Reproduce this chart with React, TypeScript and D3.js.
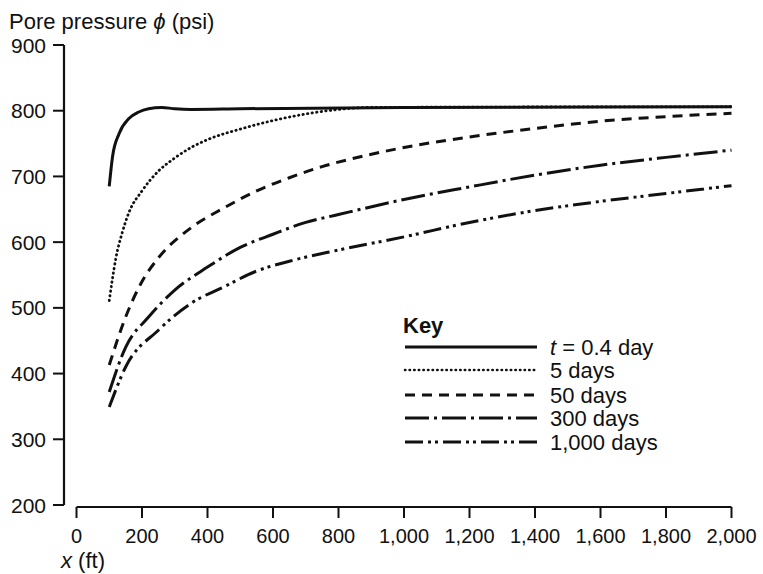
import React from "react";
import * as d3 from "d3";

type Pt = [number, number];

const xTicks = [0, 200, 400, 600, 800, 1000, 1200, 1400, 1600, 1800, 2000];
const yTicks = [200, 300, 400, 500, 600, 700, 800, 900];

const t04: Pt[] = [[100,685],[110,730],[130,765],[160,788],[190,798],[220,803],[260,805],[300,803],[350,802],[500,803],[1000,805],[2000,806]];
const d5: Pt[] = [[100,511],[110,545],[120,575],[140,615],[160,645],[200,678],[250,708],[300,728],[350,744],[400,756],[500,772],[600,785],[700,795],[800,802],[900,805],[2000,806]];
const d50: Pt[] = [[100,413],[150,486],[200,540],[250,576],[350,622],[450,652],[550,678],[650,698],[750,715],[850,728],[1000,744],[1200,760],[1400,773],[1600,784],[1800,791],[2000,796]];
const d300: Pt[] = [[100,372],[150,440],[220,486],[300,527],[400,562],[500,592],[600,612],[700,630],[800,642],[1000,665],[1200,684],[1400,702],[1600,717],[1800,729],[2000,740]];
const d1000: Pt[] = [[100,349],[150,410],[250,466],[350,507],[450,532],[550,556],[650,571],[800,588],[1000,608],[1200,630],[1400,648],[1600,662],[1800,674],[2000,686]];

const seriesLabels = ["t = 0.4 day", "5 days", "50 days", "300 days", "1,000 days"];
const seriesData = [t04, d5, d50, d300, d1000];
const dashes = ["", "0.4 4.2", "10 7", "24 5 3 5", "18 5 3 4 3 5"];

const FONT = "'Liberation Sans', Arial, Helvetica, sans-serif";
const INK = "#111";

export default function App() {
  const x = d3.scaleLinear().domain([0, 2000]).range([76.5, 731.5]);
  const y = d3.scaleLinear().domain([200, 900]).range([505, 45]);
  const line = d3
    .line<Pt>()
    .x((d) => x(d[0]))
    .y((d) => y(d[1]))
    .curve(d3.curveMonotoneX);

  const legX0 = 405;
  const legX1 = 537;
  const legY = [347, 370, 395, 418, 442];

  return (
    <svg
      width={763}
      height={574}
      style={{ position: "absolute", left: 0, top: 0, background: "#fff" }}
      fontFamily={FONT}
    >
      <rect x={0} y={0} width={763} height={574} fill="#fff" />
      {/* title */}
      <text x={9} y={29} fontSize={22} fill={INK}>
        Pore pressure <tspan fontStyle="italic">ϕ</tspan> (psi)
      </text>

      {/* y axis */}
      <line x1={64} x2={64} y1={y(900)} y2={y(200)} stroke={INK} strokeWidth={2.2} />
      {yTicks.map((t) => (
        <g key={t}>
          <line x1={53} x2={64} y1={y(t)} y2={y(t)} stroke={INK} strokeWidth={2} />
          <text x={46} y={y(t)} dy="0.36em" textAnchor="end" fontSize={21} fill={INK}>
            {t}
          </text>
        </g>
      ))}

      {/* x axis */}
      <line x1={x(0)} x2={x(2000)} y1={507} y2={507} stroke={INK} strokeWidth={2.2} />
      {xTicks.map((t) => (
        <g key={t}>
          <line x1={x(t)} x2={x(t)} y1={507} y2={518} stroke={INK} strokeWidth={2} />
          <text x={x(t)} y={543} textAnchor="middle" fontSize={20} fill={INK}>
            {d3.format(",")(t)}
          </text>
        </g>
      ))}
      <text x={61} y={568} fontSize={22} fill={INK}>
        <tspan fontStyle="italic">x</tspan> (ft)
      </text>

      {/* curves */}
      {seriesData.map((s, i) => (
        <path
          key={i}
          d={line(s) || ""}
          fill="none"
          stroke={INK}
          strokeWidth={i === 1 ? 2.8 : 3}
          strokeDasharray={dashes[i] || undefined}
          strokeLinecap={i === 1 ? "round" : "butt"}
        />
      ))}

      {/* legend */}
      <text x={403} y={333} fontSize={22} fontWeight="bold" fill={INK}>
        Key
      </text>
      {seriesLabels.map((lab, i) => (
        <g key={lab}>
          <line
            x1={legX0}
            x2={legX1}
            y1={legY[i]}
            y2={legY[i]}
            stroke={INK}
            strokeWidth={i === 1 ? 2.6 : 3}
            strokeDasharray={dashes[i] || undefined}
            strokeLinecap={i === 1 ? "round" : "butt"}
          />
          <text x={550} y={legY[i]} dy="0.36em" fontSize={22} fill={INK}>
            {i === 0 ? (
              <>
                <tspan fontStyle="italic">t</tspan> = 0.4 day
              </>
            ) : (
              lab
            )}
          </text>
        </g>
      ))}
    </svg>
  );
}
